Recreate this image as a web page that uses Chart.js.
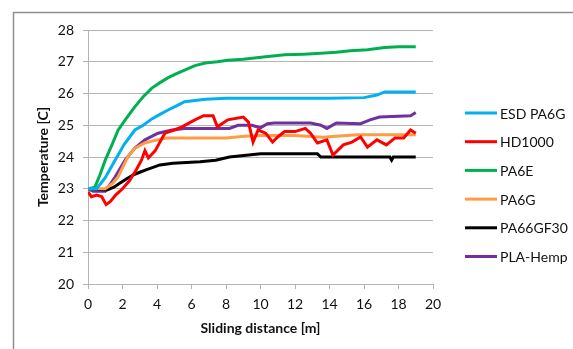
<!DOCTYPE html>
<html>
<head>
<meta charset="utf-8">
<script src="https://cdn.jsdelivr.net/npm/chart.js@4/dist/chart.umd.min.js"></script>
<style>
  html, body { margin: 0; padding: 0; background: #fff; }
</style>
</head>
<body>
<canvas id="chart" width="573" height="349"></canvas>
<script>
// Data (sliding distance in m, temperature in C)
let esdX = [0, 0.5, 1.0, 1.57, 2.1, 2.72, 3.2, 3.7, 4.2, 4.64, 5.1, 5.6, 6.2, 6.8, 8, 10, 12, 14, 16, 16.75, 17.2, 18, 19];
let esdY = [23.0, 23.0, 23.35, 23.9, 24.4, 24.85, 25.0, 25.2, 25.35, 25.48, 25.6, 25.74, 25.78, 25.82, 25.85, 25.85, 25.85, 25.85, 25.87, 25.95, 26.05, 26.05, 26.05];

let hdX = [0, 0.2, 0.5, 0.8, 1.05, 1.3, 1.6, 2.0, 2.4, 2.8, 3.1, 3.3, 3.5, 3.9, 4.2, 4.46, 5.0, 5.45, 6.2, 6.7, 7.0, 7.25, 7.5, 8.1, 9.0, 9.3, 9.57, 9.86, 10.3, 10.7, 11.0, 11.4, 12.0, 12.6, 12.9, 13.3, 13.85, 14.2, 14.8, 15.3, 15.8, 16.2, 16.75, 17.3, 17.8, 18.3, 18.7, 19.0];
let hdY = [22.9, 22.75, 22.8, 22.75, 22.5, 22.6, 22.8, 23.0, 23.25, 23.6, 23.9, 24.2, 23.97, 24.2, 24.5, 24.75, 24.85, 24.95, 25.17, 25.3, 25.3, 25.3, 24.95, 25.17, 25.26, 25.1, 24.47, 24.85, 24.75, 24.47, 24.63, 24.8, 24.8, 24.9, 24.75, 24.44, 24.54, 24.06, 24.38, 24.47, 24.63, 24.31, 24.54, 24.38, 24.6, 24.6, 24.85, 24.75];

let pa6eX = [0, 0.4, 0.7, 1.0, 1.4, 1.75, 2.2, 2.7, 3.2, 3.7, 4.2, 4.65, 5.1, 5.6, 6.2, 6.8, 7.5, 8.1, 9, 10.3, 11.4, 12.5, 13.5, 14.4, 15.2, 16.2, 17.2, 18, 19];
let pa6eY = [23.0, 23.05, 23.45, 23.9, 24.4, 24.85, 25.2, 25.57, 25.9, 26.17, 26.35, 26.5, 26.62, 26.74, 26.88, 26.96, 27.0, 27.05, 27.08, 27.16, 27.22, 27.24, 27.27, 27.3, 27.35, 27.38, 27.45, 27.47, 27.47];

let pa6gX = [0, 0.5, 1.0, 1.45, 1.74, 2.3, 2.72, 3.3, 4.0, 4.6, 6, 8, 9.1, 10, 12, 13.6, 15.6, 17, 19];
let pa6gY = [23.0, 23.0, 23.0, 23.18, 23.37, 24.0, 24.28, 24.44, 24.54, 24.6, 24.6, 24.6, 24.65, 24.68, 24.68, 24.62, 24.7, 24.7, 24.7];

let pa66X = [0, 1.1, 1.5, 1.86, 2.2, 2.6, 3.0, 3.4, 4.17, 4.93, 6.5, 7.4, 8.2, 10.0, 13.3, 13.5, 17.5, 17.6, 17.7, 19];
let pa66Y = [23.0, 22.96, 23.05, 23.18, 23.3, 23.43, 23.52, 23.6, 23.75, 23.8, 23.85, 23.9, 24.0, 24.1, 24.1, 24.0, 24.0, 23.9, 24.0, 24.0];

let plaX = [0, 0.3, 1.0, 1.57, 2.15, 2.72, 3.3, 4.06, 4.87, 5.6, 8.2, 8.7, 9.5, 10.0, 10.4, 10.8, 12.9, 13.5, 13.85, 14.4, 15.8, 16.35, 16.9, 18.7, 19];
let plaY = [23.0, 22.92, 22.92, 23.37, 23.9, 24.28, 24.54, 24.75, 24.85, 24.9, 24.9, 25.0, 25.0, 24.92, 25.05, 25.07, 25.07, 25.0, 24.9, 25.07, 25.05, 25.17, 25.26, 25.3, 25.4];

let names = ["ESD PA6G", "HD1000", "PA6E", "PA6G", "PA66GF30", "PLA-Hemp"];
let colors = ["#00B0F0", "#FF0000", "#00B050", "#FF9A45", "#000000", "#7030A0"];
let xs = [esdX, hdX, pa6eX, pa6gX, pa66X, plaX];
let ys = [esdY, hdY, pa6eY, pa6gY, pa66Y, plaY];

let font = "Lato";
let gridColor = "#b4b4b4";

// side legend with line samples, like the Excel one
const sideLegend = {
    id: "sideLegend",
    afterDraw(chart) {
        const ctx = chart.ctx;
        const area = chart.chartArea;
        ctx.save();
        ctx.font = "14px " + font;
        ctx.textBaseline = "middle";
        ctx.fillStyle = "#111";
        chart.data.datasets.forEach((ds, i) => {
            let y = area.top + 83 + i * 28.7;
            ctx.strokeStyle = ds.borderColor;
            ctx.lineWidth = 3;
            ctx.beginPath();
            ctx.moveTo(area.right + 32, y);
            ctx.lineTo(area.right + 64, y);
            ctx.stroke();
            ctx.fillText(ds.label, area.right + 67, y + 1);
        });
        ctx.restore();
    }
};

// chart frame (top and left edge visible)
const frame = {
    id: "frame",
    beforeDraw(chart) {
        const ctx = chart.ctx;
        ctx.save();
        ctx.strokeStyle = "#8e8e8e";
        ctx.lineWidth = 1.5;
        ctx.beginPath();
        ctx.moveTo(13.5, chart.height);
        ctx.lineTo(13.5, 12.5);
        ctx.lineTo(chart.width, 12.5);
        ctx.stroke();
        ctx.restore();
    }
};

new Chart(document.getElementById("chart"), {
    type: "line",
    data: {
        datasets: names.map((n, i) => ({
            label: n,
            data: xs[i].map((x, j) => ({ x: x, y: ys[i][j] })),
            borderColor: colors[i],
            backgroundColor: colors[i],
            borderWidth: 3,
            pointRadius: 0,
            tension: 0
        }))
    },
    options: {
        responsive: false,
        animation: false,
        layout: { padding: { left: 0, right: 140, top: 30, bottom: 0 } },
        plugins: {
            legend: { display: false },
            tooltip: { enabled: false }
        },
        scales: {
            x: {
                type: "linear",
                min: 0,
                max: 20,
                ticks: { stepSize: 2, padding: 7, color: "#111", font: { family: font, size: 14 } },
                grid: { drawOnChartArea: false, drawTicks: true, tickLength: 5, color: gridColor },
                border: { color: gridColor, width: 1 },
                title: {
                    display: true,
                    text: "Sliding distance [m]",
                    color: "#111",
                    font: { family: font, size: 14, weight: "bold" },
                    padding: { top: 0, bottom: 12 }
                },
                afterFit(scale) { scale.height = 65; }
            },
            y: {
                min: 20,
                max: 28,
                ticks: { stepSize: 1, padding: 9, color: "#111", font: { family: font, size: 14 } },
                grid: { color: gridColor, drawTicks: true, tickLength: 5 },
                border: { color: gridColor, width: 1 },
                title: {
                    display: true,
                    text: "Temperature [C]",
                    color: "#111",
                    font: { family: font, size: 14, weight: "bold" },
                    padding: { top: 35, bottom: 0 }
                },
                afterFit(scale) { scale.width = 88; }
            }
        }
    },
    plugins: [frame, sideLegend]
});
</script>
</body>
</html>
